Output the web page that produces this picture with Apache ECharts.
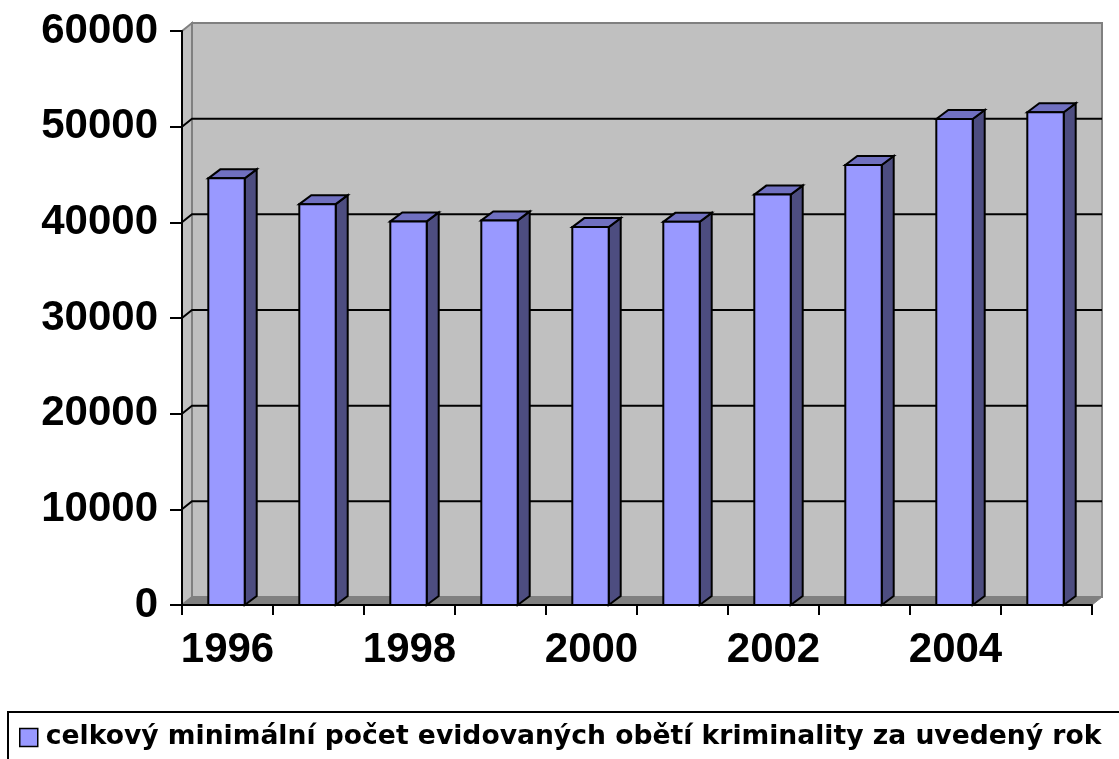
<!DOCTYPE html>
<html>
<head>
<meta charset="utf-8">
<script src="https://cdn.jsdelivr.net/npm/echarts@6/dist/echarts.min.js"></script>
<style>
  html, body { margin: 0; padding: 0; background: #fff; }
  #main { width: 1119px; height: 759px; }
</style>
</head>
<body>
<div id="main"></div>
<script>
// data
var years = ['1996', '1997', '1998', '1999', '2000', '2001', '2002', '2003', '2004', '2005'];
var victims = [44600, 41900, 40100, 40200, 39500, 40050, 42900, 46000, 50800, 51500];
var gridValues = [10000, 20000, 30000, 40000, 50000];
var seriesName = 'celkový minimální počet evidovaných obětí kriminality za uvedený rok';

var myChart = echarts.init(document.getElementById('main'));

// depth of the pseudo 3D
var wallDx = 10, wallDy = -8;
var barDx = 12, barDy = -9;

function renderWall(params, api) {
    var cs = params.coordSys;
    var l = cs.x, r = cs.x + cs.width, t = cs.y, b = cs.y + cs.height;
    var kids = [];
    // back wall
    kids.push({ type: 'rect', shape: { x: l + wallDx, y: t + wallDy, width: cs.width, height: cs.height },
        style: { fill: '#C0C0C0', stroke: '#808080', lineWidth: 2 } });
    // left side wall
    kids.push({ type: 'polygon', shape: { points: [[l, t], [l + wallDx, t + wallDy], [l + wallDx, b + wallDy], [l, b]] },
        style: { fill: '#C0C0C0', stroke: '#808080', lineWidth: 2 } });
    // floor
    kids.push({ type: 'polygon', shape: { points: [[l, b], [r, b], [r + wallDx, b + wallDy], [l + wallDx, b + wallDy]] },
        style: { fill: '#808080', stroke: '#808080', lineWidth: 1 } });
    for (var i = 0; i < gridValues.length; i++) {
        var y = api.coord([0, gridValues[i]])[1];
        kids.push({ type: 'polyline', shape: { points: [[l, y], [l + wallDx, y + wallDy], [r + wallDx, y + wallDy]] },
            style: { stroke: '#000', lineWidth: 2, fill: null } });
    }
    return { type: 'group', children: kids };
}

function renderBar(params, api) {
    var base = api.coord([api.value(0), 0]);
    var top = api.coord([api.value(0), api.value(1)]);
    var w = api.size([1, 0])[0] * 0.4;
    var x1 = base[0] - w / 2 - 1, x2 = x1 + w;
    var yb = base[1], yt = top[1];
    var st = { stroke: '#000', lineWidth: 2 };
    return {
        type: 'group',
        children: [
            { type: 'polygon', shape: { points: [[x2, yb], [x2 + barDx, yb + barDy], [x2 + barDx, yt + barDy], [x2, yt]] },
              style: Object.assign({ fill: '#4D4D80' }, st) },
            { type: 'polygon', shape: { points: [[x1, yt], [x1 + barDx, yt + barDy], [x2 + barDx, yt + barDy], [x2, yt]] },
              style: Object.assign({ fill: '#7070C0' }, st) },
            { type: 'rect', shape: { x: x1, y: yt, width: w, height: yb - yt },
              style: Object.assign({ fill: '#9999FF' }, st) }
        ]
    };
}

var barData = [];
for (var i = 0; i < years.length; i++) {
    barData.push([i, victims[i]]);
}

var option = {
    animation: false,
    grid: { left: 182, right: 27, top: 31, bottom: 154, containLabel: false },
    legend: {
        left: 8,
        top: 712,
        data: [seriesName],
        itemWidth: 18,
        itemHeight: 18,
        itemGap: 10,
        padding: [12, 20, 40, 11],
        borderColor: '#000',
        borderWidth: 2,
        icon: 'rect',
        itemStyle: { borderColor: '#000', borderWidth: 1.5 },
        textStyle: { fontFamily: 'DejaVu Sans', fontWeight: 'bold', fontSize: 26.6, color: '#000', padding: [0, 0, 0, 3] }
    },
    xAxis: {
        type: 'category',
        data: years,
        boundaryGap: true,
        z: 10,
        axisLine: { lineStyle: { color: '#000', width: 2 } },
        axisTick: { show: true, interval: 0, length: 10, lineStyle: { color: '#000', width: 2 } },
        axisLabel: { interval: 1, margin: 24, color: '#000', fontFamily: 'Liberation Sans', fontWeight: 'bold', fontSize: 42 },
        splitLine: { show: false }
    },
    yAxis: {
        type: 'value',
        min: 0,
        max: 60000,
        interval: 10000,
        z: 10,
        axisLine: { show: true, lineStyle: { color: '#000', width: 2 } },
        axisTick: { show: true, length: 12, lineStyle: { color: '#000', width: 2 } },
        axisLabel: {
            margin: 24, color: '#000', fontFamily: 'Liberation Sans', fontWeight: 'bold', fontSize: 42,
            formatter: function (v) { return String(v); }
        },
        splitLine: { show: false }
    },
    series: [
        {
            type: 'custom',
            name: 'wall',
            renderItem: renderWall,
            data: [[0, 0]],
            silent: true,
            z: 1
        },
        {
            type: 'custom',
            name: seriesName,
            renderItem: renderBar,
            data: barData,
            itemStyle: { color: '#9999FF' },
            encode: { x: 0, y: 1 },
            z: 3
        }
    ]
};

myChart.setOption(option);
</script>
</body>
</html>
